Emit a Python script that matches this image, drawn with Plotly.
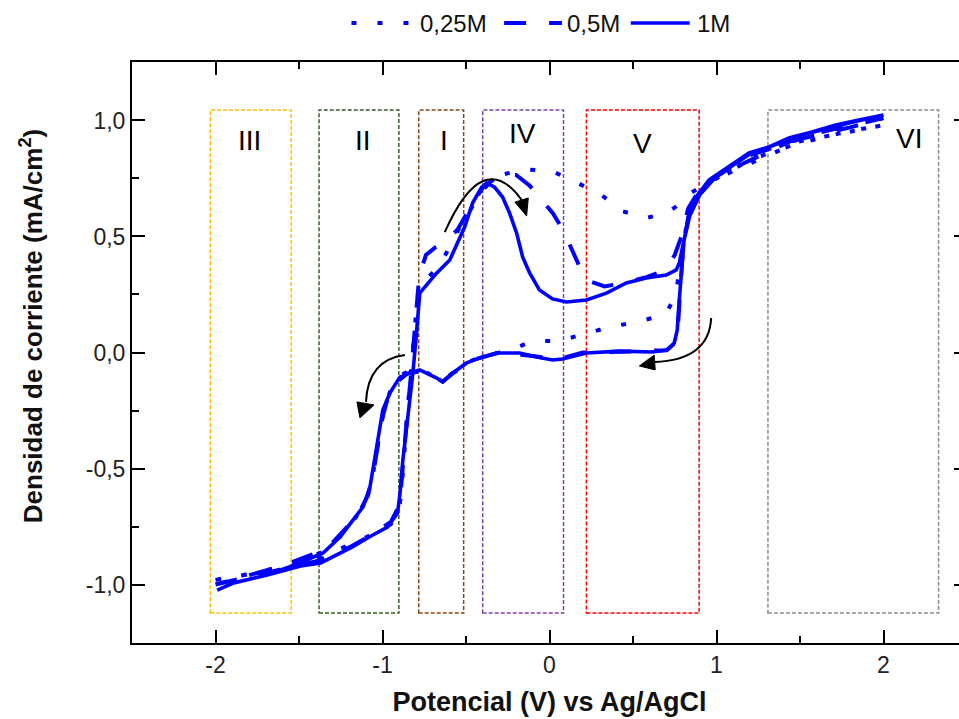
import plotly.graph_objects as go

# ---------------- data (V vs Ag/AgCl, mA/cm2) ----------------
V_1M = [-1.99, -1.89, -1.69, -1.49, -1.37, -1.30, -1.18, -1.08, -0.97, -0.91, -0.895, -0.878, -0.855,
        -0.836, -0.818, -0.800, -0.789, -0.777, -0.747, -0.675, -0.597, -0.550, -0.508, -0.460, -0.406,
        -0.376, -0.329, -0.281, -0.239, -0.197, -0.161, -0.119, -0.060, 0.018, 0.102, 0.221, 0.341, 0.460,
        0.579, 0.699, 0.759, 0.777, 0.795, 0.818, 0.836, 0.878, 0.956, 1.075, 1.195, 1.314, 1.434, 1.571,
        1.714, 1.852, 2.00,
        1.80, 1.50, 1.20, 1.00, 0.90, 0.84, 0.806, 0.789, 0.777, 0.765, 0.747, 0.705, 0.615, 0.418, 0.221,
        0.078, 0.018, -0.078, -0.179, -0.317, -0.400, -0.496, -0.579, -0.639, -0.675, -0.777, -0.836,
        -0.896, -0.956, -0.998, -1.016, -1.033, -1.057, -1.075, -1.117, -1.177, -1.254, -1.356, -1.493,
        -1.691, -1.894, -1.989]
J_1M = [-1.024, -0.993, -0.959, -0.920, -0.907, -0.882, -0.838, -0.795, -0.752, -0.692, -0.606, -0.463,
        -0.321, -0.175, -0.088, 0.054, 0.170, 0.256, 0.282, 0.343, 0.399, 0.472, 0.541, 0.645, 0.713, 0.731,
        0.713, 0.670, 0.601, 0.515, 0.412, 0.343, 0.269, 0.231, 0.218, 0.226, 0.256, 0.300, 0.321, 0.334,
        0.356, 0.386, 0.442, 0.528, 0.601, 0.670, 0.744, 0.800, 0.860, 0.886, 0.925, 0.950, 0.981, 1.002,
        1.024,
        0.99, 0.935, 0.855, 0.76, 0.68, 0.59, 0.485, 0.356, 0.226, 0.097, 0.041, 0.011, 0.002, 0.006, -0.002,
        -0.028, -0.032, -0.019, -0.002, -0.002, -0.019, -0.045, -0.088, -0.127, -0.110, -0.075, -0.088,
        -0.106, -0.175, -0.248, -0.321, -0.407, -0.494, -0.580, -0.666, -0.722, -0.795, -0.864, -0.907,
        -0.959, -0.993, -1.024]

V_05M = [-2.0, -1.7, -1.4, -1.2, -1.05, -0.95, -0.90, -0.885, -0.87, -0.85, -0.83, -0.81, -0.795, -0.78,
         -0.74, -0.68, -0.62, -0.55, -0.47, -0.40, -0.30, -0.20, -0.12, -0.05, 0.02, 0.08, 0.13, 0.18, 0.23,
         0.33, 0.45, 0.58, 0.66, 0.70, 0.75, 0.79, 0.83, 0.88, 0.96, 1.2, 1.5, 1.8, 2.0,
         1.5, 1.0, 0.9, 0.83, 0.80, 0.785, 0.77, 0.75, 0.70, 0.5, 0.2, 0.05, -0.1, -0.3, -0.45, -0.58, -0.64,
         -0.75, -0.85, -0.92, -0.97, -1.00, -1.02, -1.04, -1.06, -1.09, -1.14, -1.21, -1.30, -1.42, -1.6,
         -1.8, -2.0]
J_05M = [-1.00, -0.95, -0.90, -0.84, -0.78, -0.73, -0.66, -0.55, -0.40, -0.25, -0.10, 0.08, 0.22, 0.33,
         0.42, 0.455, 0.48, 0.53, 0.63, 0.71, 0.765, 0.765, 0.72, 0.66, 0.60, 0.53, 0.45, 0.37, 0.31, 0.285,
         0.30, 0.325, 0.345, 0.37, 0.42, 0.50, 0.62, 0.68, 0.74, 0.85, 0.92, 0.97, 1.01,
         0.93, 0.76, 0.69, 0.58, 0.45, 0.30, 0.12, 0.04, 0.01, 0.005, 0.0, -0.03, -0.015, 0.0, -0.03, -0.09,
         -0.125, -0.08, -0.09, -0.13, -0.20, -0.28, -0.36, -0.45, -0.54, -0.62, -0.69, -0.75, -0.82, -0.87,
         -0.92, -0.96, -1.00]

V_025M = [-2.0, -1.8, -1.6, -1.4, -1.2, -1.05, -0.95, -0.90, -0.885, -0.87, -0.85, -0.83, -0.81, -0.79,
          -0.77, -0.72, -0.66, -0.53, -0.40, -0.32, -0.15, 0.02, 0.17, 0.31, 0.43, 0.58, 0.70, 0.76, 0.83,
          0.92, 1.0, 1.2, 1.46, 1.63, 1.77, 1.92, 2.0,
          1.5, 1.0, 0.9, 0.82, 0.78, 0.75, 0.70, 0.68, 0.51, 0.36, 0.21, 0.06, -0.10, -0.2, -0.3, -0.4, -0.5,
          -0.58, -0.64, -0.7, -0.78, -0.84, -0.9, -0.95, -0.99, -1.01, -1.03, -1.05, -1.07, -1.11, -1.17,
          -1.25, -1.36, -1.5, -1.7, -1.9, -2.0]
J_025M = [-0.98, -0.955, -0.925, -0.89, -0.83, -0.78, -0.74, -0.68, -0.58, -0.42, -0.25, -0.08, 0.10, 0.24,
          0.31, 0.33, 0.37, 0.55, 0.70, 0.76, 0.79, 0.78, 0.73, 0.68, 0.61, 0.58, 0.60, 0.63, 0.68, 0.72,
          0.75, 0.83, 0.895, 0.925, 0.95, 0.97, 0.98,
          0.91, 0.75, 0.70, 0.55, 0.35, 0.24, 0.17, 0.16, 0.13, 0.11, 0.08, 0.05, 0.05, 0.02, 0.0, -0.015,
          -0.045, -0.085, -0.12, -0.10, -0.07, -0.08, -0.10, -0.16, -0.24, -0.32, -0.41, -0.50, -0.58, -0.66,
          -0.72, -0.79, -0.86, -0.90, -0.94, -0.97, -0.98]

SERIES_NAMES = ["0,25M", "0,5M", "1M"]
SERIES_DASH = ["5px,21px", "22px,23px", "solid"]
SERIES_WIDTH = [4, 4, 3.6]

X_TICKS = [-2, -1, 0, 1, 2]
X_TICKTEXT = ["-2", "-1", "0", "1", "2"]
Y_TICKS = [-1.0, -0.5, 0.0, 0.5, 1.0]
Y_TICKTEXT = ["-1,0", "-0,5", "0,0", "0,5", "1,0"]
X_TITLE = "Potencial (V) vs Ag/AgCl"
Y_TITLE = "Densidad de corriente (mA/cm<sup>2</sup>)"

# region boxes: label, x0, x1, colour
REGIONS = [("III", -2.031, -1.547, "#FFC000"),
           ("II", -1.380, -0.902, "#3B5E2B"),
           ("I", -0.783, -0.514, "#8B4513"),
           ("IV", -0.400, 0.084, "#7F3FAF"),
           ("V", 0.221, 0.896, "#FF0000"),
           ("VI", 1.308, 2.330, "#8C8C8C")]
REGION_LABEL_POS = [(-1.798, 0.915), (-1.117, 0.915), (-0.633, 0.912), (-0.161, 0.945), (0.556, 0.902),
                    (2.151, 0.924)]
BOX_TOP, BOX_BOTTOM = 1.045, -1.123

BLUE = "#0000FF"
FONT = "Liberation Sans, Arial, sans-serif"

# layout geometry (px)
W, H = 970, 719
ML, MR, MT, MB = 132, 1, 62, 76
PW, PH = W - ML - MR, H - MT - MB


def px_to_paper_x(px):
    return (px - ML) / PW


def px_to_paper_y(py):
    return (H - MB - py) / PH


fig = go.Figure()
for xs, ys, name, dash, lw in zip([V_025M, V_05M, V_1M], [J_025M, J_05M, J_1M], SERIES_NAMES,
                                  SERIES_DASH, SERIES_WIDTH):
    fig.add_trace(go.Scatter(x=xs, y=ys, mode="lines", name=name, showlegend=False,
                             line=dict(color=BLUE, width=lw, dash=dash)))

shapes = []
for (lab, x0, x1, col), (lx, ly) in zip(REGIONS, REGION_LABEL_POS):
    shapes.append(dict(type="rect", xref="x", yref="y", x0=x0, x1=x1, y0=BOX_BOTTOM, y1=BOX_TOP,
                       line=dict(color=col, width=1.5, dash="4px,2px"), layer="below"))
    fig.add_annotation(x=lx, y=ly, xref="x", yref="y", text=lab, showarrow=False,
                       font=dict(family=FONT, size=28, color="black"))

# curved arrows (quadratic Bezier) + arrowheads
ARROWS = [
    # start, control, end, tip, base1, base2
    ((-0.627, 0.519), (-0.397, 0.890), (-0.167, 0.657), (-0.137, 0.588), (-0.207, 0.648), (-0.127, 0.666)),
    ((0.968, 0.149), (0.956, -0.032), (0.627, -0.041), (0.538, -0.058), (0.627, -0.011), (0.633, -0.075)),
    ((-0.866, -0.011), (-1.087, -0.032), (-1.099, -0.213), (-1.135, -0.282), (-1.153, -0.213), (-1.051, -0.226)),
]
for s, c, e, t, b1, b2 in ARROWS:
    shapes.append(dict(type="path", xref="x", yref="y",
                       path=f"M {s[0]},{s[1]} Q {c[0]},{c[1]} {e[0]},{e[1]}",
                       line=dict(color="black", width=2)))
    shapes.append(dict(type="path", xref="x", yref="y",
                       path=f"M {t[0]},{t[1]} L {b1[0]},{b1[1]} L {b2[0]},{b2[1]} Z",
                       line=dict(color="black", width=1), fillcolor="black"))

# legend drawn above the plot (sample line px span, text left px)
LEGEND_SAMPLES = [(352, 414, 419), (505, 563, 566), (632, 691, 696)]
LEG_Y = 23
for (x0, x1, tx), name, dash, lw in zip(LEGEND_SAMPLES, SERIES_NAMES, SERIES_DASH, SERIES_WIDTH):
    shapes.append(dict(type="line", xref="paper", yref="paper",
                       x0=px_to_paper_x(x0), x1=px_to_paper_x(x1),
                       y0=px_to_paper_y(LEG_Y), y1=px_to_paper_y(LEG_Y),
                       line=dict(color=BLUE, width=lw, dash=dash)))
    fig.add_annotation(x=px_to_paper_x(tx), y=px_to_paper_y(LEG_Y), xref="paper", yref="paper",
                       xanchor="left", yanchor="middle", text=name, showarrow=False,
                       font=dict(family=FONT, size=24, color="#111111"))

# y-axis title as a rotated annotation (centred slightly above the plot middle, as in the original)
fig.add_annotation(x=px_to_paper_x(31), y=px_to_paper_y(326), xref="paper", yref="paper",
                   text=Y_TITLE, textangle=-90, showarrow=False, xanchor="center", yanchor="middle",
                   font=dict(family=FONT, size=26, color="#111111", weight="bold"))

fig.update_layout(shapes=shapes)

axis_common = dict(showline=True, linecolor="black", linewidth=2, mirror="allticks",
                   ticks="inside", ticklen=13, tickwidth=2, tickcolor="black",
                   showgrid=False, zeroline=False,
                   tickfont=dict(family=FONT, size=23, color="#222222"))

fig.update_xaxes(range=[-2.5, 2.5], tickmode="array", tickvals=X_TICKS, ticktext=X_TICKTEXT,
                 minor=dict(ticks="inside", ticklen=7, tickwidth=2, tickcolor="black", dtick=0.5,
                            tick0=0, showgrid=False),
                 title=dict(text=X_TITLE, standoff=16,
                            font=dict(family=FONT, size=27, color="#111111", weight="bold")),
                 **axis_common)
fig.update_yaxes(range=[-1.252, 1.252], tickmode="array", tickvals=Y_TICKS, ticktext=Y_TICKTEXT,
                 minor=dict(ticks="inside", ticklen=7, tickwidth=2, tickcolor="black", dtick=0.25,
                            tick0=0, showgrid=False),
                 **axis_common)

fig.update_layout(
    width=W, height=H,
    margin=dict(l=ML, r=MR, t=MT, b=MB),
    plot_bgcolor="white", paper_bgcolor="white",
    font=dict(family=FONT, color="#111111"),
    showlegend=False,
)

fig.write_html("out.html", config={"displayModeBar": False}, post_script=(
    "document.documentElement.style.overflow='hidden';"
    "document.body.style.overflow='hidden';document.body.style.margin='0';"))
